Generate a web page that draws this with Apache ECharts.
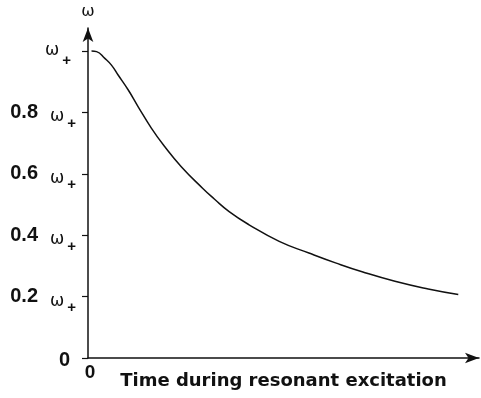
<!DOCTYPE html>
<html>
<head>
<meta charset="utf-8">
<script src="https://cdn.jsdelivr.net/npm/echarts@6/dist/echarts.min.js"></script>
<style>
    html, body { margin: 0; padding: 0; background: #fff; }
    #chart { width: 481px; height: 398px; }
</style>
</head>
<body>
<div id="chart"></div>
<script>
// time (arbitrary units, 0..100) and frequency as fraction of ω+
const timeVals = [0.9, 2.2, 4.3, 6.0, 7.7, 10.3, 12.8, 16.2, 19.6, 23.8, 29.3, 32.3, 36.1, 41.2, 48.9, 56.5, 63.3, 70.1, 78.5, 87.0, 94.7];
const omegaVals = [1.0, 0.998, 0.976, 0.954, 0.922, 0.873, 0.819, 0.749, 0.689, 0.624, 0.553, 0.518, 0.477, 0.434, 0.380, 0.342, 0.310, 0.281, 0.250, 0.225, 0.207];
const yTicks = [0, 0.2, 0.4, 0.6, 0.8, 1.0];
const yTickLabels = ['0', '0.2', '0.4', '0.6', '0.8', ''];
const xTicks = [0];

const ink = '#111';
const chart = echarts.init(document.getElementById('chart'));

const option = {
    animation: false,
    backgroundColor: '#fff',
    grid: { left: 88, right: 2, top: 28, bottom: 40, containLabel: false, outerBoundsMode: 'none' },
    xAxis: {
        type: 'value',
        min: 0,
        max: 100,
        name: 'Time during resonant excitation',
        nameLocation: 'middle',
        nameGap: 14,
        nameMoveOverlap: false,
        nameTextStyle: { fontFamily: 'DejaVu Sans', fontWeight: 'bold', fontSize: 18, color: ink },
        axisLine: { show: true, symbol: ['none', 'arrow'], symbolSize: [8, 14], lineStyle: { color: ink, width: 1.5 } },
        axisTick: { show: false },
        splitLine: { show: false },
        axisLabel: {
            customValues: xTicks,
            margin: 5,
            fontFamily: 'Liberation Sans', fontWeight: 'bold', fontSize: 19, color: ink,
            padding: [0, 0, 0, 4]
        }
    },
    yAxis: {
        type: 'value',
        min: 0,
        max: 1.075,
        name: 'ω',
        nameGap: 8,
        nameLocation: 'end',
        nameTextStyle: { fontFamily: 'DejaVu Sans', fontSize: 16, color: ink, align: 'center' },
        axisLine: { show: true, symbol: ['none', 'arrow'], symbolSize: [8, 14], lineStyle: { color: ink, width: 1.5 } },
        axisTick: { show: true, customValues: yTicks, length: 6, inside: false, lineStyle: { color: ink, width: 1.2 } },
        splitLine: { show: false },
        axisLabel: {
            customValues: yTicks,
            margin: 12,
            formatter: (v) => {
                const i = yTicks.findIndex(t => Math.abs(t - v) < 1e-6);
                if (i === 0) return '{z|0}';
                const num = yTickLabels[i];
                if (num === '') return '{t|ω}{u|+}{p|}';
                return '{n|' + num + '}{g|}{w|ω}{s|+}';
            },
            rich: {
                z: { fontFamily: 'Liberation Sans', fontWeight: 'bold', fontSize: 20, color: ink, padding: [4, 6, 0, 0] },
                n: { fontFamily: 'Liberation Sans', fontWeight: 'bold', fontSize: 20, color: ink, lineHeight: 26, verticalAlign: 'middle' },
                g: { width: 12 },
                w: { fontFamily: 'DejaVu Sans', fontSize: 17, color: ink, lineHeight: 26, padding: [9, 0, 0, 0] },
                t: { fontFamily: 'DejaVu Sans', fontSize: 17, color: ink, lineHeight: 26, padding: [0, 0, 0, 0] },
                s: { fontFamily: 'Liberation Sans', fontWeight: 'bold', fontSize: 15, color: ink, lineHeight: 26, padding: [23, 0, 0, 3] },
                u: { fontFamily: 'Liberation Sans', fontWeight: 'bold', fontSize: 15, color: ink, lineHeight: 26, padding: [20, 0, 0, 3] },
                p: { width: 5 }
            }
        }
    },
    series: [{
        type: 'line',
        data: timeVals.map((t, i) => [t, omegaVals[i]]),
        smooth: 0.5,
        showSymbol: false,
        lineStyle: { color: ink, width: 1.5 }
    }]
};

chart.setOption(option);
</script>
</body>
</html>
